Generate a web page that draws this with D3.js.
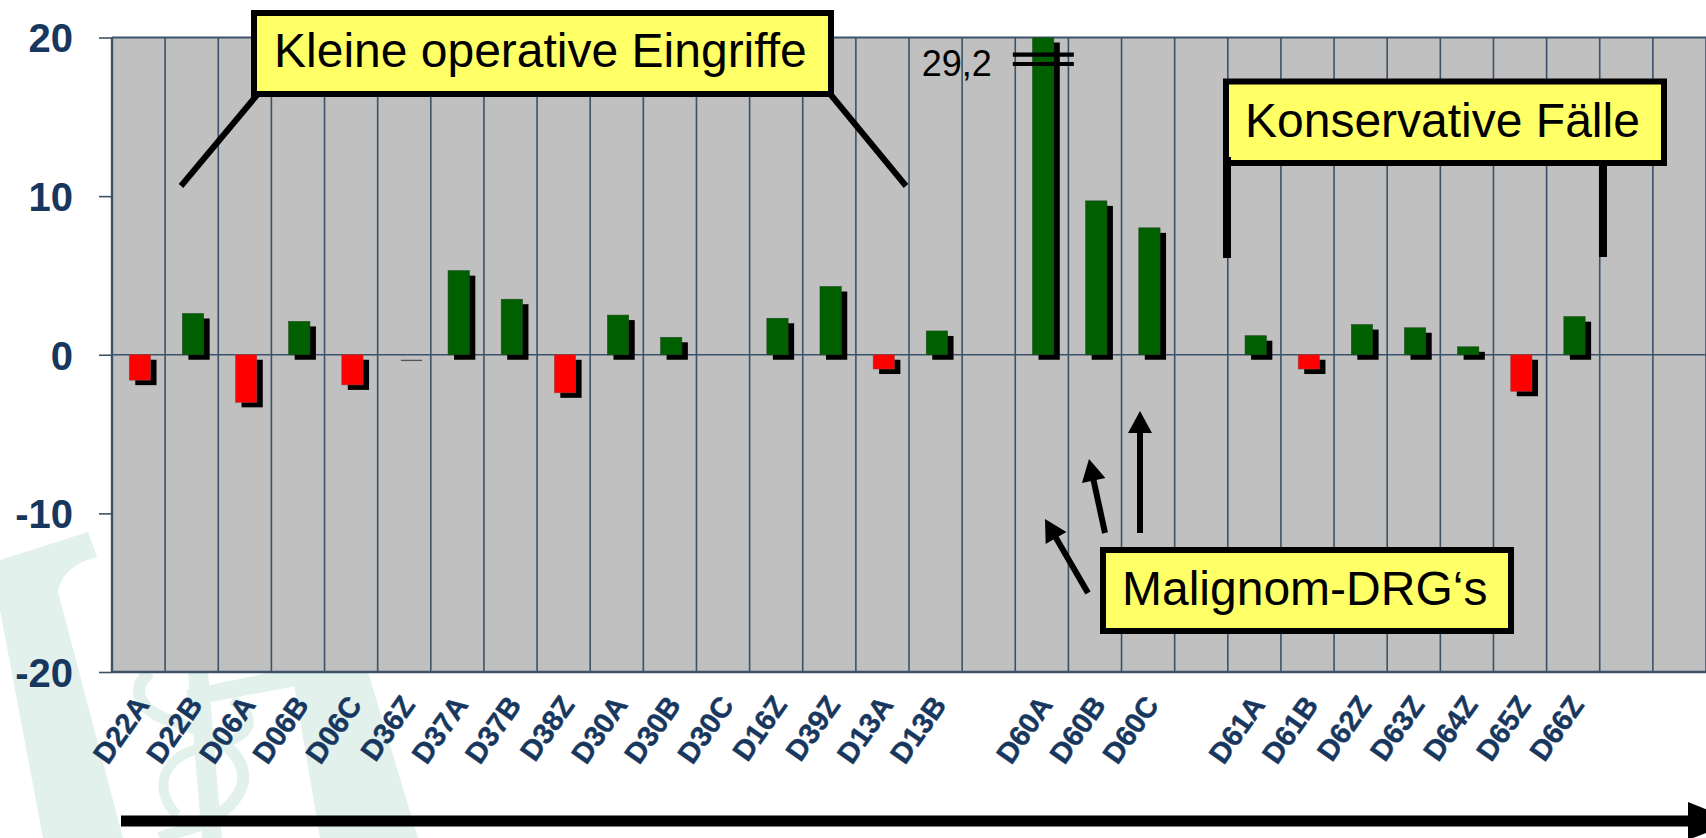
<!DOCTYPE html>
<html><head><meta charset="utf-8">
<script src="https://cdn.jsdelivr.net/npm/d3@7"></script>
<style>
html,body{margin:0;padding:0;background:#fff;}
svg{display:block;}
</style></head>
<body>
<svg id="chart" width="1706" height="838"></svg>
<script>
// ---- data ----
const categories = ["D22A","D22B","D06A","D06B","D06C","D36Z","D37A","D37B","D38Z","D30A","D30B","D30C","D16Z","D39Z","D13A","D13B","","D60A","D60B","D60C","","D61A","D61B","D62Z","D63Z","D64Z","D65Z","D66Z","",""];
const values = [-1.6,2.6,-3.0,2.1,-1.9,0,5.3,3.5,-2.4,2.5,1.1,null,2.3,4.3,-0.9,1.5,null,29.2,9.7,8.0,null,1.2,-0.9,1.9,1.7,0.5,-2.3,2.4,null,null];
const yTicks = [20,10,0,-10,-20];
const yDomain = [-20,20];
const brokenCategory = "D60A";
const brokenLabel = "29,2";
const boxTexts = ["Kleine operative Eingriffe","Konservative Fälle","Malignom-DRG\u2018s"];

// ---- layout ----
const W = 1706, H = 838;
const plot = {left:112, right:1706, top:37.5, bottom:672};
const navy = "#17375e", grid = "#3b5268", green = "#006000", red = "#ff0000", yellow = "#ffff66";
const sans = "'Liberation Sans', Arial, sans-serif";

const svg = d3.select("#chart");

// watermark (faint logo)
const wmc = "#e2f1ec";
const wm = svg.append("g").attr("fill",wmc).attr("stroke","none");
wm.append("path").attr("d","M0,560 L88,532 L97,557 Q62,566 58,592 L123,838 L43,838 L0,610 Z");
wm.append("path").attr("d","M292,672 L368,672 L418,838 L320,838 Z");
wm.append("path").attr("d","M186,690 L292,668 L296,686 L190,706 Z");
wm.append("path").attr("d","M188,672 L208,672 L222,838 L202,838 Z");
wm.append("path").attr("d","M150,672 C128,690 140,712 175,722 C245,742 262,780 222,812 C200,830 170,832 160,838")
  .attr("fill","none").attr("stroke",wmc).attr("stroke-width",12);
wm.append("path").attr("d","M232,700 C262,720 252,740 202,748 C162,756 152,790 177,815")
  .attr("fill","none").attr("stroke",wmc).attr("stroke-width",10);

// scales
const idx = d3.range(categories.length);
const x = d3.scaleBand().domain(idx).range([plot.left, plot.right]).paddingInner(0).paddingOuter(0);
const y = d3.scaleLinear().domain(yDomain).range([plot.bottom, plot.top]);
const step = x.step();

// plot background
svg.append("rect").attr("x",plot.left).attr("y",plot.top)
  .attr("width",plot.right-plot.left).attr("height",plot.bottom-plot.top).attr("fill","#c0c0c0");

// vertical grid lines at band boundaries
svg.append("g").selectAll("line").data(d3.range(categories.length+1)).join("line")
  .attr("x1",i=>plot.left+i*step).attr("x2",i=>plot.left+i*step)
  .attr("y1",plot.top).attr("y2",plot.bottom)
  .attr("stroke",grid).attr("stroke-width",1.6);

// zero line
svg.append("line").attr("x1",plot.left).attr("x2",plot.right).attr("y1",y(0)).attr("y2",y(0))
  .attr("stroke",grid).attr("stroke-width",1.6);

// border lines
svg.append("line").attr("x1",plot.left).attr("x2",plot.right).attr("y1",plot.top).attr("y2",plot.top).attr("stroke",grid).attr("stroke-width",2);
svg.append("line").attr("x1",plot.left).attr("x2",plot.right).attr("y1",plot.bottom).attr("y2",plot.bottom).attr("stroke",grid).attr("stroke-width",2.4);
svg.append("line").attr("x1",plot.left).attr("x2",plot.left).attr("y1",plot.top).attr("y2",plot.bottom).attr("stroke",grid).attr("stroke-width",2.4);

// clip
svg.append("clipPath").attr("id","clip").append("rect")
  .attr("x",plot.left).attr("y",plot.top).attr("width",plot.right-plot.left).attr("height",plot.bottom-plot.top);

const barData = idx.filter(i=>values[i]!==null).map(i=>({i, v:values[i]}));
const bx = d=>x(d.i)+step*0.325, bw = step*0.4;
const vClamp = v=>Math.max(yDomain[0],Math.min(yDomain[1],v));
const by = d=>Math.min(y(vClamp(d.v)),y(0));
const bh = d=>Math.abs(y(vClamp(d.v))-y(0));

const bars = svg.append("g").attr("clip-path","url(#clip)");
bars.selectAll("rect.sh").data(barData).join("rect").attr("class","sh")
  .attr("x",d=>bx(d)+6).attr("y",d=>by(d)+5).attr("width",bw).attr("height",d=>Math.max(bh(d),1.3))
  .attr("fill",d=>d.v===0?"#555":"#000");
bars.selectAll("rect.b").data(barData.filter(d=>d.v!==0)).join("rect").attr("class","b")
  .attr("x",bx).attr("y",by).attr("width",bw).attr("height",bh)
  .attr("fill",d=>d.v>0?green:red).attr("stroke",d=>d.v>0?"#1f4a1f":"#a04040").attr("stroke-width",0.6);

// y axis
const yAxis = svg.append("g").attr("transform",`translate(${plot.left},0)`)
  .call(d3.axisLeft(y).tickValues(yTicks).tickSize(13).tickPadding(26).tickFormat(d3.format("d")));
yAxis.select(".domain").remove();
yAxis.selectAll("line").attr("stroke",grid).attr("stroke-width",1.6);
yAxis.selectAll("text").attr("fill",navy).attr("font-family",sans).attr("font-weight","bold")
  .attr("font-size",40).attr("dy","0.36em").text(d=>d<0?"-"+Math.abs(d):d);

// x axis
const xAxis = svg.append("g").attr("transform",`translate(0,${plot.bottom})`)
  .call(d3.axisBottom(x).tickSize(0).tickFormat(i=>categories[i]));
xAxis.select(".domain").remove();
xAxis.selectAll("text").attr("fill",navy).attr("font-family",sans).attr("font-weight","bold")
  .style("font-size","29px").attr("x",0).attr("y",0).attr("dy",null)
  .attr("stroke",navy).attr("stroke-width",0.4)
  .attr("text-anchor","end").attr("transform","translate(12,33) rotate(-55)");

// broken bar marker
const bi = categories.indexOf(brokenCategory);
const bcx = x(bi)+step/2;
svg.append("text").attr("x",bcx-50).attr("y",76).attr("text-anchor","end")
  .attr("font-family",sans).attr("font-size",36).attr("fill","#000").text(brokenLabel);
[54.7,64].forEach(yy=>svg.append("line").attr("x1",bcx-29).attr("x2",bcx+32).attr("y1",yy).attr("y2",yy)
  .attr("stroke","#000").attr("stroke-width",4.2));

// annotation helpers
function box(x0,y0,w,h,txt,tx,ty){
  svg.append("rect").attr("x",x0).attr("y",y0).attr("width",w).attr("height",h)
    .attr("fill",yellow).attr("stroke","#000").attr("stroke-width",6);
  svg.append("text").attr("x",tx).attr("y",ty).attr("font-family",sans).attr("font-size",48)
    .attr("fill","#000").text(txt);
}
function seg(x1,y1,x2,y2,w){
  svg.append("line").attr("x1",x1).attr("y1",y1).attr("x2",x2).attr("y2",y2)
    .attr("stroke","#000").attr("stroke-width",w);
}
function arrow(x1,y1,x2,y2){
  const dx=x2-x1, dy=y2-y1, L=Math.hypot(dx,dy), ux=dx/L, uy=dy/L;
  const hl=22, hw=12;
  const bxp=x2-ux*hl, byp=y2-uy*hl;
  seg(x1,y1,bxp+ux*2,byp+uy*2,6);
  svg.append("path").attr("d",`M${x2},${y2} L${bxp-uy*hw},${byp+ux*hw} L${bxp+uy*hw},${byp-ux*hw} Z`).attr("fill","#000");
}

// Kleine operative Eingriffe
seg(257,95,181,186,6);
seg(831,95,906,186,6);
box(254,13,577,81,boxTexts[0],274,67);

// Konservative Fälle
box(1226,81.5,438,81.5,boxTexts[1],1245,137);
seg(1227,157,1227,258,8);
seg(1603,163,1603,257,8);

// Malignom-DRG's
arrow(1088,593,1045,519);
arrow(1105,533,1089,459);
arrow(1140,533,1140,411);
box(1103,550,408,81,boxTexts[2],1122,605);

// bottom arrow
svg.append("rect").attr("x",121).attr("y",815.5).attr("width",1570).attr("height",11).attr("fill","#000");
svg.append("path").attr("d","M1688,802 L1736,821 L1688,840 Z").attr("fill","#000");
</script>
</body></html>
